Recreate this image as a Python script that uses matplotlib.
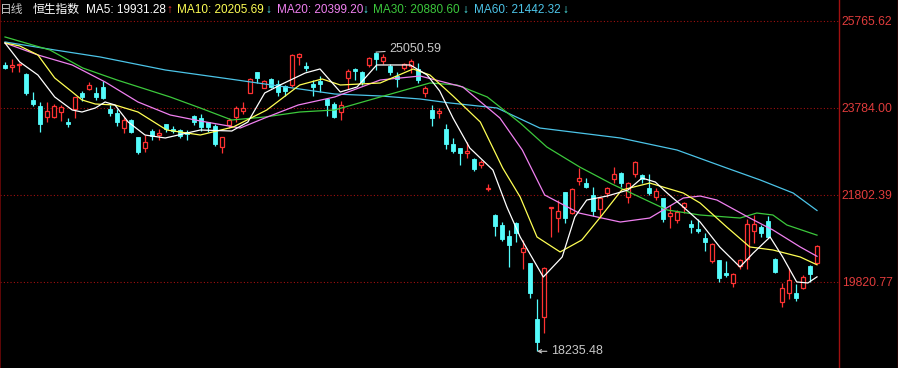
import numpy as np
import matplotlib.pyplot as plt
from matplotlib.lines import Line2D

plt.rcParams['font.family'] = ['Liberation Sans', 'Noto Sans CJK SC', 'DejaVu Sans']

# daily candles, oldest first
opens = [24750, 24718, 24750, 24545, 23953, 23830, 23579, 23579, 23693, 23465,
         23755, 24112, 24203, 24126, 24263, 23748, 23671, 23328, 23504, 23110,
         22859, 23253, 23162, 23406, 23292, 23276, 23224, 23595, 23543, 23451,
         23367, 22895, 23390, 23579, 23709, 24126, 24591, 24240, 24438, 24324,
         24278, 24301, 24946, 24741, 24324, 24399, 23982, 23869, 23679, 24454,
         24659, 24604, 24757, 25020, 24848, 24741, 24499, 24695, 24741, 24666,
         24112, 23732, 23657, 23299, 22957, 22859, 22746, 22607, 22478, 21925,
         21340, 21113, 20861, 21150, 20504, 20240, 18964, 19009, 21492, 21278,
         21871, 21378, 22120, 22062, 21795, 21470, 21834, 22153, 22290, 21757,
         22274, 22251, 21948, 21743, 21720, 21324, 21226, 21529, 21135, 21021,
         20823, 20299, 20315, 20025, 19784, 20178, 20330, 20982, 21060, 21203,
         20330, 19351, 19556, 19570, 19670, 20178, 20240]
highs = [24818, 24887, 24809, 24580, 24149, 23921, 23907, 23869, 23846, 23543,
         24035, 24171, 24363, 24249, 24392, 23846, 23748, 23565, 23520, 23124,
         23162, 23299, 23299, 23406, 23367, 23292, 23276, 23618, 23634, 23465,
         23406, 23124, 23543, 23830, 23907, 24454, 24604, 24415, 24468, 24415,
         24301, 25000, 25037, 24832, 24415, 24513, 24012, 23907, 23937, 24659,
         24681, 24620, 24933, 25050.59, 25000, 24773, 24604, 24809, 24894, 24796,
         24278, 23846, 23784, 23406, 23087, 22873, 22996, 22630, 22593, 22039,
         21356, 21188, 20998, 21188, 20770, 20240, 19420, 20149, 21529, 21681,
         21871, 21948, 22404, 22176, 21971, 21757, 21971, 22440, 22326, 22098,
         22570, 22274, 22274, 21948, 21720, 21568, 21454, 21643, 21226, 21249,
         20937, 20694, 20315, 20299, 20011, 20330, 21242, 21340, 21113, 21317,
         20353, 19784, 20126, 19768, 19973, 20201, 20656]
lows = [24659, 24604, 24604, 24066, 23830, 23224, 23465, 23556, 23481, 23351,
        23556, 23937, 24187, 23960, 23982, 23602, 23374, 23201, 23201, 22723,
        22782, 23049, 23049, 23238, 23201, 23087, 23049, 23390, 23253, 23224,
        22918, 22759, 23315, 23465, 23634, 24112, 24340, 24226, 24226, 24049,
        24049, 24263, 24757, 24620, 24049, 24149, 23602, 23556, 23504, 24203,
        24415, 24301, 24718, 24650, 24773, 24529, 24263, 24643, 24568, 24340,
        24035, 23374, 23556, 22837, 22746, 22480, 22645, 22342, 22417, 21887,
        20869, 20755, 20149, 20732, 20103, 19456, 18235.48, 18645, 20832, 20959,
        21150, 21363, 22023, 21948, 21324, 21265, 21757, 22076, 21971, 21606,
        22199, 22062, 21795, 21681, 21188, 21037, 21164, 21379, 20937, 20937,
        20527, 20240, 19820, 19920, 19707, 20103, 20103, 20695, 20832, 20809,
        20025, 19237, 19426, 19388, 19647, 19820, 20223]
closes = [24695, 24757, 24780, 24112, 23875, 23406, 23709, 23823, 23793, 23406,
          24021, 24035, 24301, 24035, 23998, 23657, 23465, 23504, 23224, 22782,
          23010, 23146, 23215, 23299, 23253, 23146, 23178, 23451, 23337, 23337,
          22957, 23110, 23504, 23771, 23784, 24431, 24454, 24399, 24263, 24149,
          24164, 24985, 25000, 24681, 24263, 24317, 23846, 23579, 23846, 24620,
          24627, 24363, 24910, 24900, 24932, 24604, 24438, 24773, 24848, 24415,
          24226, 23556, 23709, 22950, 22797, 22759, 22797, 22387, 22539, 21962,
          21096, 20787, 20656, 20937, 20595, 19570, 18454, 20140, 21529, 21438,
          21265, 21932, 22175, 21985, 21438, 21720, 21948, 22274, 22062, 22062,
          22554, 22153, 21848, 21893, 21242, 21379, 21401, 21606, 21073, 20975,
          20732, 20672, 19898, 19966, 19996, 20315, 21135, 21135, 20923, 20846,
          20048, 19684, 19859, 19442, 19934, 19996, 20634]

# moving averages (candle position, value)
ma5_pos = [0, 2.1, 4.7, 7.1, 9.6, 11, 12.9, 14.3, 15.7, 17.6, 20, 22.9, 27.9, 32.4, 34.7,
           37.1, 39.6, 42.9, 45, 47.9, 50.3, 53.1, 57.9, 60.3, 62.1, 64, 66.4, 69.7, 71.7,
           73.6, 76.9, 79.6, 81.4, 83.1, 86, 89, 91, 92.9, 94.6, 96.9, 99.3, 102.1, 105,
           106.9, 109.3, 111.1, 113.1, 114.7, 116]
ma5_val = [25258, 24825, 24529, 24028, 23732, 23686, 23777, 23914, 23846, 23458, 23162,
           23094, 23276, 23253, 23458, 24119, 24324, 24575, 24666, 24142, 24256, 24757,
           24757, 24529, 24164, 23549, 22866, 22365, 21522, 20839, 19928, 20384, 21294,
           21681, 21772, 21909, 22182, 22091, 21840, 21522, 21180, 20612, 20156, 20475,
           20839, 20384, 19815, 19792, 19931.28]
ma10_pos = [0, 2.1, 4.7, 7.1, 9.6, 11, 12.9, 15.7, 19, 23.1, 27.9, 32.6, 37.4, 42.1, 45.3,
            47.9, 53.6, 58.3, 60.7, 64, 67.9, 71.1, 73.6, 76, 79.3, 82.4, 85.3, 88.1, 92.1,
            96.9, 99.3, 103.1, 106.4, 109.7, 113.6, 116]
ma10_val = [25258, 25190, 24985, 24461, 24142, 23960, 23868, 23846, 23686, 23276, 23162,
            23344, 23732, 24301, 24438, 24301, 24347, 24666, 24529, 24051, 23458, 22410,
            21749, 20839, 20498, 20771, 21340, 21909, 22068, 21840, 21613, 21067, 20612,
            20543, 20384, 20205.69]
ma20_pos = [0, 4.7, 9.6, 14.3, 19, 23.6, 27.9, 33.6, 37.1, 41.9, 47.1, 53.6, 59.3, 65.4,
            70.7, 73.9, 77.1, 82, 87.9, 92.1, 96.9, 99.3, 101.7, 106.4, 109.7, 113.6, 116]
ma20_val = [25258, 24985, 24757, 24370, 23914, 23618, 23481, 23321, 23549, 23846, 24028,
            24415, 24506, 24256, 23549, 22820, 21795, 21385, 21180, 21271, 21727, 21772,
            21681, 21271, 20999, 20612, 20399.20]
ma30_pos = [0, 6.4, 11.1, 16, 23.6, 27.9, 32.4, 37.1, 42.1, 47.1, 53.6, 60.7, 64.6, 68.9,
            73.6, 77.4, 82.1, 86.7, 94.6, 99.3, 105, 107.4, 109.7, 111.7, 116]
ma30_val = [25395, 25099, 24689, 24415, 24028, 23777, 23504, 23572, 23686, 23732, 24028,
            24347, 24301, 24028, 23435, 22889, 22433, 22046, 21454, 21340, 21271, 21385,
            21340, 21112, 20880.60]
ma60_pos = [0, 7.1, 13.6, 22.9, 32.1, 42.1, 47.1, 53.6, 59.3, 63.6, 70.3, 76.4, 87.9, 96,
            103.1, 107.9, 112.6, 116]
ma60_val = [25281, 25099, 24939, 24643, 24438, 24210, 24096, 24051, 23982, 23891, 23777,
            23321, 23094, 22820, 22410, 22137, 21840, 21442.32]

grid_vals = [25765.62, 23784.00, 21802.39, 19820.77]

RED = '#ff3232'
CYAN = '#54fcfc'
FRAME = '#a01010'

o = np.array(opens, float)
h = np.array(highs, float)
l = np.array(lows, float)
c = np.array(closes, float)
x = np.arange(len(c))
up = c >= o

fig = plt.figure(figsize=(8.98, 3.68), dpi=100, facecolor='black')
ax = fig.add_axes([0, 0, 839 / 898, 1])
ax.set_facecolor('black')

# wicks then bodies (red = up, hollow; cyan = down, filled)
ax.vlines(x[up], l[up], h[up], color=RED, lw=0.9, zorder=2)
ax.vlines(x[~up], l[~up], h[~up], color=CYAN, lw=0.9, zorder=2)
body = np.maximum(np.abs(c - o), 18)
ax.bar(x[up], body[up], bottom=np.minimum(o, c)[up], width=0.7,
       facecolor='black', edgecolor=RED, lw=0.9, zorder=3)
ax.bar(x[~up], body[~up], bottom=np.minimum(o, c)[~up], width=0.7,
       facecolor=CYAN, edgecolor=CYAN, lw=0.6, zorder=3)

# moving averages
ax.plot(ma60_pos, ma60_val, color='#4cc4e8', lw=0.9, zorder=4)
ax.plot(ma30_pos, ma30_val, color='#3cc83c', lw=0.9, zorder=4)
ax.plot(ma20_pos, ma20_val, color='#f080f0', lw=0.9, zorder=4)
ax.plot(ma10_pos, ma10_val, color='#ffff54', lw=0.9, zorder=4)
ax.plot(ma5_pos, ma5_val, color='#ffffff', lw=0.9, zorder=5)

# highest / lowest markers
hi = int(np.argmax(h))
lo = int(np.argmin(l))
ax.annotate(f'{h[hi]:.2f}', xy=(hi, h[hi]), xytext=(hi + 1.9, h[hi] + 60),
            color='#c8c8c8', fontsize=9, va='center', ha='left',
            arrowprops=dict(arrowstyle='-', color='#c8c8c8', lw=0.8, shrinkA=1, shrinkB=0))
ax.annotate(f'{l[lo]:.2f}', xy=(lo, l[lo]), xytext=(lo + 2.0, l[lo]),
            color='#c8c8c8', fontsize=9, va='center', ha='left',
            arrowprops=dict(arrowstyle='->', color='#c8c8c8', lw=0.8, shrinkA=1, shrinkB=0,
                            mutation_scale=6))

ax.set_xlim(-5 / 7, 834 / 7)
ax.set_ylim(17855, 26237)
ax.set_xticks([])
ax.yaxis.tick_right()
ax.set_yticks(grid_vals)
ax.set_yticklabels([f'{v:.2f}' for v in grid_vals])
ax.tick_params(axis='y', length=0, pad=2, labelsize=8.8, labelcolor='#e03c3c')
ax.grid(axis='y', color=FRAME, ls=(0, (1, 2)), lw=0.8)
ax.set_axisbelow(True)
for side in ['top', 'bottom']:
    ax.spines[side].set_visible(False)
ax.spines['left'].set_color('#700808')
ax.spines['right'].set_color(FRAME)
ax.spines['left'].set_linewidth(1.2)
ax.spines['right'].set_linewidth(1)
fig.add_artist(Line2D([897.5 / 898] * 2, [0, 1], color=FRAME, lw=1))

# header line
header = [(0, '日线', '#c8c8c8'), (33, '恒生指数', '#ffffff'),
          (86, 'MA5: 19931.28', '#ffffff'), (166, '↑', RED),
          (177, 'MA10: 20205.69', '#ffff54'), (265, '↓', CYAN),
          (277, 'MA20: 20399.20', '#f080f0'), (362, '↓', CYAN),
          (373, 'MA30: 20880.60', '#3cc83c'), (462, '↓', CYAN),
          (474, 'MA60: 21442.32', '#4cc4e8'), (562, '↓', CYAN)]
for px, s, col in header:
    bold = 'bold' if s in ('↑', '↓') else 'normal'
    fig.text(px / 898, 1 - 10 / 368, s, color=col, fontsize=8.5, va='center', ha='left',
             fontweight=bold)

fig.savefig('out.png', dpi=100, facecolor='black')
